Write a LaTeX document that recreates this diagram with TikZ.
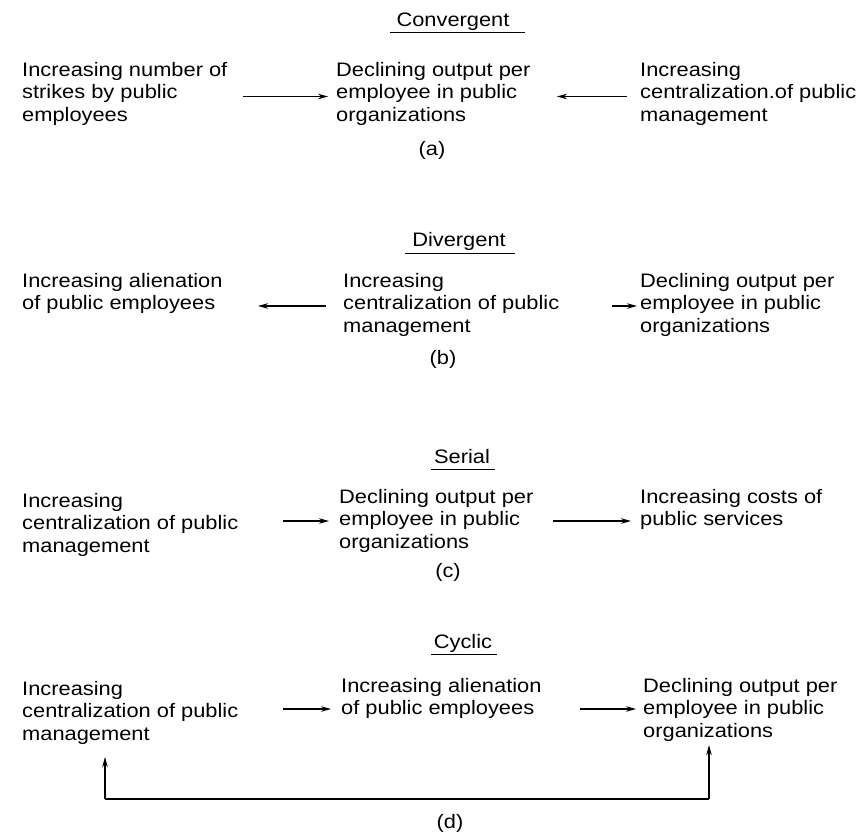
\documentclass[tikz,border=0pt]{standalone}
\usepackage{fontspec}
\setmainfont[FakeStretch=1.12]{Liberation Sans}
\usetikzlibrary{arrows.meta}
\begin{document}
\begin{tikzpicture}[x=1pt,y=-1pt,
  txt/.style={anchor=north west,inner sep=0pt,align=left,font=\fontsize{19.5}{22.5}\selectfont},
  ttl/.style={anchor=base,inner sep=0pt,font=\fontsize{19.5}{22.5}\selectfont},
  lab/.style={inner sep=0pt,font=\fontsize{19.5}{22.5}\selectfont},
  arr/.style={line width=1.3pt,-{Stealth[length=10pt,width=5.5pt]}},
  plain/.style={line width=1.3pt},
  uline/.style={line width=1pt}]
\useasboundingbox (0,0) rectangle (859,834);
% (a) Convergent
\node[ttl] (ta) at (453,27) {Convergent};
\coordinate (ua1) at (390,33); \coordinate (ua2) at (525,33);
\draw[uline] (ua1) -- (ua2);
\node[txt] (a1) at (22,62) {Increasing number of\\strikes by public\\employees};
\node[txt] (a2) at (336,62) {Declining output per\\employee in public\\organizations};
\node[txt] (a3) at (640,62) {Increasing\\centralization.of public\\management};
\coordinate (a1e) at (243,96.5); \coordinate (a2w) at (328,96.5);
\coordinate (a3w) at (627,96.5); \coordinate (a2e) at (557,96.5);
\draw[arr] (a1e) -- (a2w);
\draw[arr] (a3w) -- (a2e);
\node[lab] (la) at (432,150) {(a)};
% (b) Divergent
\node[ttl] (tb) at (459,247) {Divergent};
\coordinate (ub1) at (405,254); \coordinate (ub2) at (515,254);
\draw[uline] (ub1) -- (ub2);
\node[txt] (b1) at (22,273) {Increasing alienation\\of public employees};
\node[txt] (b2) at (343,273) {Increasing\\centralization of public\\management};
\node[txt] (b3) at (640,273) {Declining output per\\employee in public\\organizations};
\coordinate (b2w) at (326,306); \coordinate (b1e) at (258,306);
\coordinate (b2e) at (612,306); \coordinate (b3w) at (637,306);
\draw[arr] (b2w) -- (b1e);
\draw[arr] (b2e) -- (b3w);
\node[lab] (lb) at (443,359) {(b)};
% (c) Serial
\node[ttl] (tc) at (462,463) {Serial};
\coordinate (uc1) at (431,469); \coordinate (uc2) at (495,469);
\draw[uline] (uc1) -- (uc2);
\node[txt] (c1) at (22,493) {Increasing\\centralization of public\\management};
\node[txt] (c2) at (339,489) {Declining output per\\employee in public\\organizations};
\node[txt] (c3) at (640,489) {Increasing costs of\\public services};
\coordinate (c1e) at (283,521); \coordinate (c2w) at (329,521);
\coordinate (c2e) at (553,521); \coordinate (c3w) at (631,521);
\draw[arr] (c1e) -- (c2w);
\draw[arr] (c2e) -- (c3w);
\node[lab] (lc) at (448,572) {(c)};
% (d) Cyclic
\node[ttl] (td) at (463,648) {Cyclic};
\coordinate (ud1) at (431,654); \coordinate (ud2) at (497,654);
\draw[uline] (ud1) -- (ud2);
\node[txt] (d1) at (22,681) {Increasing\\centralization of public\\management};
\node[txt] (d2) at (341,678) {Increasing alienation\\of public employees};
\node[txt] (d3) at (643,678) {Declining output per\\employee in public\\organizations};
\coordinate (d1e) at (283,709); \coordinate (d2w) at (331,709);
\coordinate (d2e) at (580,709); \coordinate (d3w) at (636,709);
\draw[arr] (d1e) -- (d2w);
\draw[arr] (d2e) -- (d3w);
\coordinate (dl) at (105,799); \coordinate (dr) at (709,799);
\coordinate (dlt) at (105,757); \coordinate (drt) at (709,745);
\draw[plain] (dl) -- (dr);
\draw[arr] (dl) -- (dlt);
\draw[arr] (dr) -- (drt);
\node[lab] (ld) at (450,823) {(d)};
\end{tikzpicture}
\end{document}
